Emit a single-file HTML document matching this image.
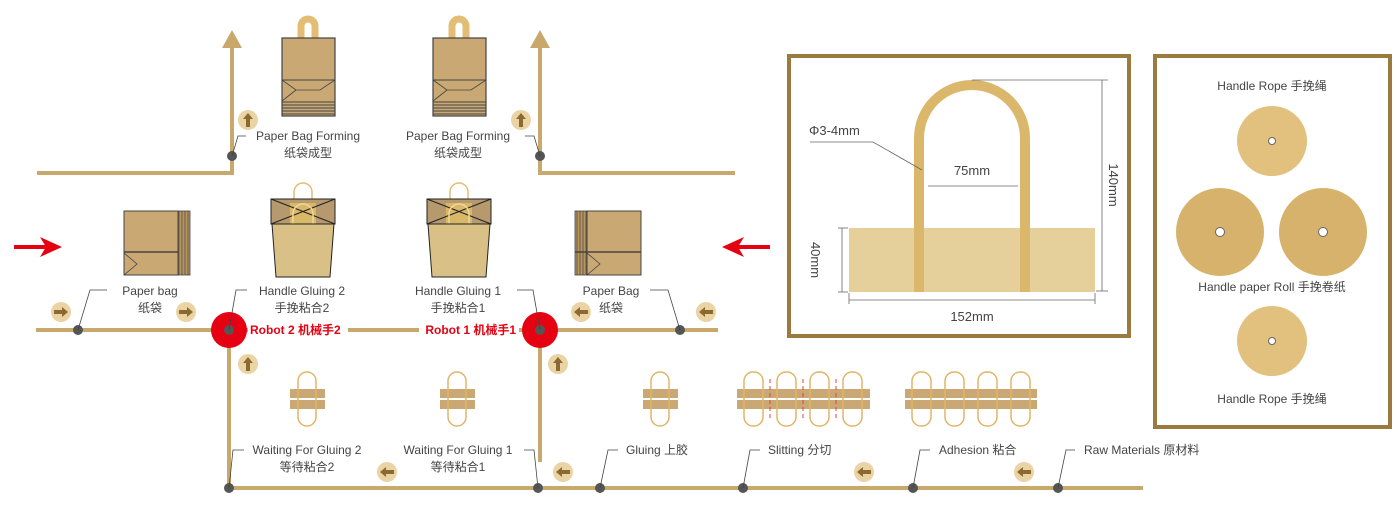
<!DOCTYPE html>
<html><head><meta charset="utf-8"><style>
html,body{margin:0;padding:0;background:#fff;}
svg{display:block;font-family:"Liberation Sans","Noto Sans CJK SC",sans-serif;}
.t{font-size:12px;fill:#444;}
.r{font-size:12px;fill:#e50012;font-weight:bold;}
</style></head><body>
<svg width="1399" height="510" viewBox="0 0 1399 510" xmlns="http://www.w3.org/2000/svg">
<g stroke="#c9a86b" stroke-width="4" fill="none">
<polyline points="37,173 232,173 232,45"/>
<polyline points="735,173 540,173 540,45"/>
<line x1="36" y1="330" x2="718" y2="330"/>
<line x1="229" y1="330" x2="229" y2="488"/>
<line x1="540" y1="330" x2="540" y2="462"/>
<line x1="227" y1="488" x2="1143" y2="488"/>
</g>
<polygon points="232,30 222,48 242,48" fill="#c9a86b"/>
<polygon points="540,30 530,48 550,48" fill="#c9a86b"/>
<!-- red arrows -->
<g fill="#e50012">
<rect x="14" y="245" width="32" height="4"/><polygon points="62,247 40,237 46,247 40,257"/>
<rect x="738" y="245" width="32" height="4"/><polygon points="722,247 744,237 738,247 744,257"/>
</g>
<!-- small arrow circles -->
<g fill="#8a6a2f">
<g transform="translate(248,120)"><circle r="10" fill="#ead3a4"/><polygon points="0,-7 -5,-1 -2,-1 -2,7 2,7 2,-1 5,-1"/></g>
<g transform="translate(521,120)"><circle r="10" fill="#ead3a4"/><polygon points="0,-7 -5,-1 -2,-1 -2,7 2,7 2,-1 5,-1"/></g>
<g transform="translate(248,364)"><circle r="10" fill="#ead3a4"/><polygon points="0,-7 -5,-1 -2,-1 -2,7 2,7 2,-1 5,-1"/></g>
<g transform="translate(558,364)"><circle r="10" fill="#ead3a4"/><polygon points="0,-7 -5,-1 -2,-1 -2,7 2,7 2,-1 5,-1"/></g>
<g transform="translate(61,312)"><circle r="10" fill="#ead3a4"/><polygon points="7,0 1,-5 1,-2 -7,-2 -7,2 1,2 1,5"/></g>
<g transform="translate(186,312)"><circle r="10" fill="#ead3a4"/><polygon points="7,0 1,-5 1,-2 -7,-2 -7,2 1,2 1,5"/></g>
<g transform="translate(581,312)"><circle r="10" fill="#ead3a4"/><polygon points="-7,0 -1,-5 -1,-2 7,-2 7,2 -1,2 -1,5"/></g>
<g transform="translate(706,312)"><circle r="10" fill="#ead3a4"/><polygon points="-7,0 -1,-5 -1,-2 7,-2 7,2 -1,2 -1,5"/></g>
<g transform="translate(387,472)"><circle r="10" fill="#ead3a4"/><polygon points="-7,0 -1,-5 -1,-2 7,-2 7,2 -1,2 -1,5"/></g>
<g transform="translate(563,472)"><circle r="10" fill="#ead3a4"/><polygon points="-7,0 -1,-5 -1,-2 7,-2 7,2 -1,2 -1,5"/></g>
<g transform="translate(864,472)"><circle r="10" fill="#ead3a4"/><polygon points="-7,0 -1,-5 -1,-2 7,-2 7,2 -1,2 -1,5"/></g>
<g transform="translate(1024,472)"><circle r="10" fill="#ead3a4"/><polygon points="-7,0 -1,-5 -1,-2 7,-2 7,2 -1,2 -1,5"/></g>
</g>
<!-- robot label backgrounds -->
<rect x="248" y="320" width="100" height="18" fill="#fff"/>
<rect x="419" y="320" width="100" height="18" fill="#fff"/>
<!-- robots -->
<circle cx="229" cy="330" r="18" fill="#e50012"/><circle cx="229" cy="330" r="5" fill="#555"/>
<circle cx="540" cy="330" r="18" fill="#e50012"/><circle cx="540" cy="330" r="5" fill="#555"/>
<!-- dots -->
<g fill="#555">
<circle cx="232" cy="156" r="5"/><circle cx="540" cy="156" r="5"/>
<circle cx="78" cy="330" r="5"/><circle cx="680" cy="330" r="5"/>
<circle cx="229" cy="488" r="5"/><circle cx="538" cy="488" r="5"/><circle cx="600" cy="488" r="5"/>
<circle cx="743" cy="488" r="5"/><circle cx="913" cy="488" r="5"/><circle cx="1058" cy="488" r="5"/>
</g>
<!-- leaders -->
<g stroke="#444" stroke-width="0.8" fill="none">
<polyline points="232,156 238,136 246,136"/>
<polyline points="540,156 534,136 525,136"/>
<polyline points="78,330 90,290 107,290"/>
<polyline points="229,330 236,290 247,290"/>
<polyline points="540,330 533,290 517,290"/>
<polyline points="680,330 668,290 650,290"/>
<polyline points="229,488 233,450 244,450"/>
<polyline points="538,488 534,450 524,450"/>
<polyline points="600,488 608,450 618,450"/>
<polyline points="743,488 750,450 760,450"/>
<polyline points="913,488 920,450 930,450"/>
<polyline points="1058,488 1066,450 1075,450"/>
</g>
<!-- labels -->
<g class="t">
<text x="308" y="140" text-anchor="middle">Paper Bag Forming</text><text x="308" y="157" text-anchor="middle">纸袋成型</text>
<text x="458" y="140" text-anchor="middle">Paper Bag Forming</text><text x="458" y="157" text-anchor="middle">纸袋成型</text>
<text x="150" y="295" text-anchor="middle">Paper bag</text><text x="150" y="312" text-anchor="middle">纸袋</text>
<text x="302" y="295" text-anchor="middle">Handle Gluing 2</text><text x="302" y="312" text-anchor="middle">手挽粘合2</text>
<text x="458" y="295" text-anchor="middle">Handle Gluing 1</text><text x="458" y="312" text-anchor="middle">手挽粘合1</text>
<text x="611" y="295" text-anchor="middle">Paper Bag</text><text x="611" y="312" text-anchor="middle">纸袋</text>
<text x="307" y="454" text-anchor="middle">Waiting For Gluing 2</text><text x="307" y="471" text-anchor="middle">等待粘合2</text>
<text x="458" y="454" text-anchor="middle">Waiting For Gluing 1</text><text x="458" y="471" text-anchor="middle">等待粘合1</text>
<text x="626" y="454">Gluing 上胶</text>
<text x="768" y="454">Slitting 分切</text>
<text x="939" y="454">Adhesion 粘合</text>
<text x="1084" y="454">Raw Materials 原材料</text>
</g>
<text class="r" x="250" y="334">Robot 2 机械手2</text>
<text class="r" x="516" y="334" text-anchor="end">Robot 1 机械手1</text>
<!-- top bags -->
<g id="tb1">
<path d="M301,38 v-12 a7,7 0 0 1 14,0 v12" fill="none" stroke="#e3bd74" stroke-width="7"/>
<rect x="282" y="38" width="53" height="78" fill="#c9a873" stroke="#444" stroke-width="1.2"/>
<line x1="282" y1="80" x2="335" y2="80" stroke="#444"/>
<polyline points="282,80 296,90 320,90 335,80" fill="none" stroke="#444" stroke-width="0.8"/>
<polyline points="282,101 296,90 M320,90 335,101" fill="none" stroke="#444" stroke-width="0.8"/>
<g stroke="#444" stroke-width="1"><line x1="282" y1="102" x2="335" y2="102"/><line x1="282" y1="105" x2="335" y2="105"/><line x1="282" y1="108" x2="335" y2="108"/><line x1="282" y1="111" x2="335" y2="111"/><line x1="282" y1="114" x2="335" y2="114"/></g>
</g>
<use href="#tb1" transform="translate(151,0)"/>
<!-- flat paper bags -->
<g>
<rect x="176" y="211" width="14" height="64" fill="#b8965e" stroke="#444" stroke-width="0.8"/>
<g stroke="#444" stroke-width="0.7"><line x1="179" y1="211" x2="179" y2="275"/><line x1="182" y1="211" x2="182" y2="275"/><line x1="185" y1="211" x2="185" y2="275"/><line x1="188" y1="211" x2="188" y2="275"/></g>
<rect x="124" y="211" width="54" height="64" fill="#c9a873" stroke="#444" stroke-width="1"/>
<line x1="124" y1="252" x2="178" y2="252" stroke="#444" stroke-width="1.5"/>
<polyline points="124,253 137,264 124,275 M178,253 165,264 178,275 M137,264 165,264" fill="none" stroke="#444" stroke-width="0.8"/>
</g>
<g>
<rect x="575" y="211" width="14" height="64" fill="#b8965e" stroke="#444" stroke-width="0.8"/>
<g stroke="#444" stroke-width="0.7"><line x1="577" y1="211" x2="577" y2="275"/><line x1="580" y1="211" x2="580" y2="275"/><line x1="583" y1="211" x2="583" y2="275"/><line x1="586" y1="211" x2="586" y2="275"/></g>
<rect x="587" y="211" width="54" height="64" fill="#c9a873" stroke="#444" stroke-width="1"/>
<line x1="575" y1="252" x2="641" y2="252" stroke="#444" stroke-width="1.5"/>
<polyline points="587,253 600,264 587,275 M641,253 628,264 641,275 M600,264 628,264" fill="none" stroke="#444" stroke-width="0.8"/>
</g>
<!-- handle gluing bags -->
<g id="hb">
<path d="M294,200 v-8 a9,9 0 0 1 18,0 v8" fill="none" stroke="#e3bd74" stroke-width="1.5"/>
<rect x="271" y="199" width="64" height="25" fill="#b69a6e" stroke="#222" stroke-width="1"/>
<polygon points="290,203 316,203 316,224 290,224" fill="#d8b867"/>
<path d="M271,199 L335,224 M335,199 L271,224" stroke="#222" stroke-width="1" fill="none"/>
<path d="M293,224 v-10 a10,10 0 0 1 20,0 v10" fill="none" stroke="#f0d79e" stroke-width="1.5"/>
<polygon points="272,224 334,224 330,277 276,277" fill="#d9c086" stroke="#222" stroke-width="1"/>
</g>
<use href="#hb" transform="translate(156,0)"/>
<!-- handle items -->
<g id="hi">
<rect x="290" y="389" width="35" height="9" fill="#c9a873"/>
<rect x="290" y="400" width="35" height="9" fill="#c9a873"/>
<rect x="298" y="372" width="18" height="54" rx="9" fill="none" stroke="#e0b567" stroke-width="1.5"/>
</g>
<use href="#hi" transform="translate(150,0)"/>
<use href="#hi" transform="translate(353,0)"/>
<g>
<rect x="737" y="389" width="133" height="9" fill="#c9a873"/><rect x="737" y="400" width="133" height="9" fill="#c9a873"/>
<g fill="none" stroke="#e0b567" stroke-width="1.5">
<rect x="744" y="372" width="19" height="54" rx="9"/><rect x="777" y="372" width="19" height="54" rx="9"/><rect x="810" y="372" width="19" height="54" rx="9"/><rect x="843" y="372" width="19" height="54" rx="9"/></g>
<g stroke="#e34040" stroke-width="1" stroke-dasharray="4,3"><line x1="770" y1="379" x2="770" y2="419"/><line x1="803" y1="379" x2="803" y2="419"/><line x1="836" y1="379" x2="836" y2="419"/></g>
</g>
<g>
<rect x="905" y="389" width="132" height="9" fill="#c9a873"/><rect x="905" y="400" width="132" height="9" fill="#c9a873"/>
<g fill="none" stroke="#e0b567" stroke-width="1.5">
<rect x="912" y="372" width="19" height="54" rx="9"/><rect x="945" y="372" width="19" height="54" rx="9"/><rect x="978" y="372" width="19" height="54" rx="9"/><rect x="1011" y="372" width="19" height="54" rx="9"/></g>
</g>
<!-- left frame -->
<rect x="789" y="56" width="340" height="280" fill="none" stroke="#9a7a3e" stroke-width="4"/>
<rect x="849" y="228" width="246" height="64" fill="#e5d09c"/>
<path d="M919,292 V138 a53,53 0 0 1 106,0 V292" fill="none" stroke="#dbb76b" stroke-width="10"/>
<g stroke="#666" stroke-width="0.8" fill="none">
<line x1="972" y1="80" x2="1108" y2="80"/>
<line x1="1102" y1="80" x2="1102" y2="291"/><line x1="1096" y1="291" x2="1108" y2="291"/>
<line x1="842" y1="228" x2="842" y2="292"/><line x1="838" y1="228" x2="848" y2="228"/><line x1="838" y1="292" x2="848" y2="292"/>
<line x1="849" y1="300" x2="1095" y2="300"/><line x1="849" y1="293" x2="849" y2="304"/><line x1="1095" y1="293" x2="1095" y2="304"/>
<line x1="928" y1="186" x2="1018" y2="186"/>
<polyline points="810,142 873,142 922,170"/>
</g>
<g class="t" style="font-size:13px">
<text x="809" y="135">Φ3-4mm</text>
<text x="972" y="175" text-anchor="middle">75mm</text>
<text x="972" y="321" text-anchor="middle">152mm</text>
<text transform="translate(1109,185) rotate(90)" text-anchor="middle">140mm</text>
<text transform="translate(811,260) rotate(90)" text-anchor="middle">40mm</text>
</g>
<!-- right frame -->
<rect x="1155" y="56" width="235" height="371" fill="none" stroke="#9a7a3e" stroke-width="4"/>
<g fill="#e2c07d"><circle cx="1272" cy="141" r="35"/><circle cx="1272" cy="341" r="35"/></g>
<g fill="#d6b26c"><circle cx="1220" cy="232" r="44"/><circle cx="1323" cy="232" r="44"/></g>
<g fill="#fff" stroke="#666" stroke-width="1"><circle cx="1272" cy="141" r="3.5"/><circle cx="1272" cy="341" r="3.5"/><circle cx="1220" cy="232" r="4.5"/><circle cx="1323" cy="232" r="4.5"/></g>
<g class="t" text-anchor="middle">
<text x="1272" y="90">Handle Rope 手挽绳</text>
<text x="1272" y="291">Handle paper Roll 手挽卷纸</text>
<text x="1272" y="403">Handle Rope 手挽绳</text>
</g>
</svg>
</body></html>
